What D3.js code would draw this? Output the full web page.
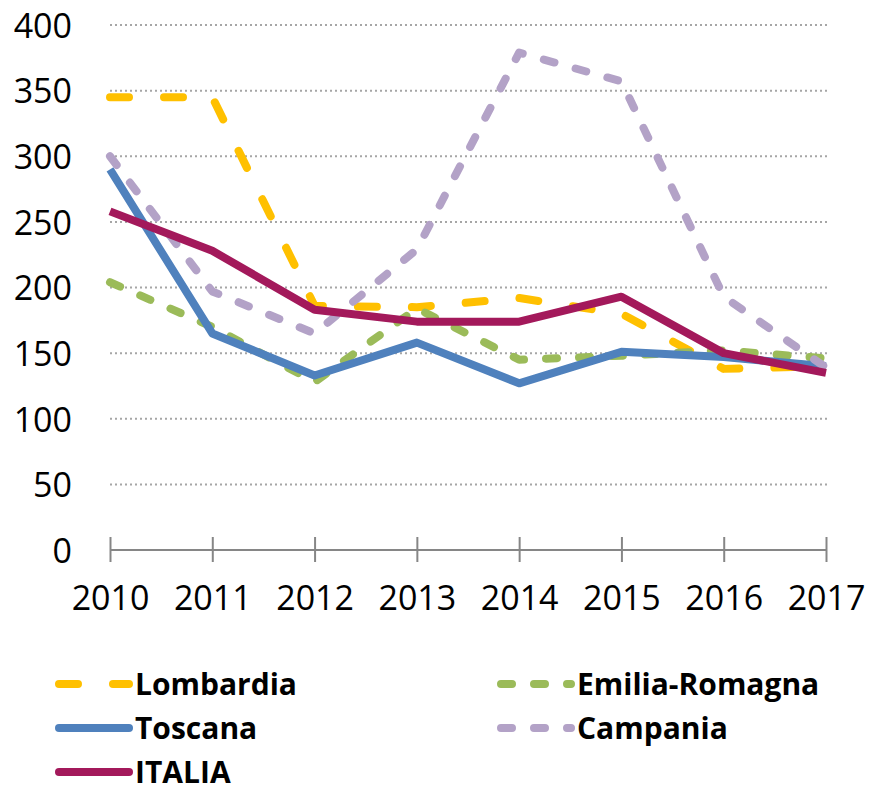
<!DOCTYPE html>
<html>
<head>
<meta charset="utf-8">
<script src="https://cdn.jsdelivr.net/npm/d3@7"></script>
<style>
  body { margin: 0; background: #fff; }
  svg { font-family: "Open Sans", "DejaVu Sans", sans-serif; }
</style>
</head>
<body>
<div id="chart"></div>
<script>
var years = [2010, 2011, 2012, 2013, 2014, 2015, 2016, 2017];
var yTicks = [0, 50, 100, 150, 200, 250, 300, 350, 400];

var lombardia = [345, 345, 186, 185, 192, 180, 138, 140];
var emilia    = [204, 170, 128, 184, 145, 148, 152, 146];
var toscana   = [290, 165, 133, 158, 127, 151, 147, 140];
var campania  = [300, 197, 165, 229, 379, 357, 193, 139];
var italia    = [258, 228, 183, 174, 174, 193, 150, 135];

var series = [
    {name: "Lombardia", values: lombardia, color: "#FFC000", dash: "19,35"},
    {name: "Emilia-Romagna", values: emilia, color: "#9BBB59", dash: "11,22"},
    {name: "Toscana", values: toscana, color: "#4F81BD", dash: null},
    {name: "Campania", values: campania, color: "#B3A2C7", dash: "11,22"},
    {name: "ITALIA", values: italia, color: "#A3195B", dash: null}
];

var width = 871, height = 790;
var svg = d3.select("#chart").append("svg")
        .attr("width", width)
        .attr("height", height);

var x = d3.scalePoint().domain(years).range([110, 826]);
var y = d3.scaleLinear().domain([0, 400]).range([550, 25]);

// gridlines
svg.append("g").selectAll("line")
        .data(yTicks.filter(function (d) { return d > 0; }))
        .enter().append("line")
        .attr("x1", 110).attr("x2", 828)
        .attr("y1", function (d) { return y(d); })
        .attr("y2", function (d) { return y(d); })
        .attr("stroke", "#a6a6a6")
        .attr("stroke-width", 2)
        .attr("stroke-dasharray", "2,3");

// y axis labels
var yAxis = svg.append("g")
        .attr("transform", "translate(110,0)")
        .call(d3.axisLeft(y).tickValues(yTicks).tickSize(0).tickPadding(38));
yAxis.select(".domain").remove();
yAxis.selectAll("text")
        .attr("font-size", 34)
        .attr("font-family", "Open Sans")
        .attr("fill", "#000")
        .attr("dy", "0.36em");

// x axis
var xAxis = svg.append("g")
        .attr("transform", "translate(0,550)")
        .call(d3.axisBottom(x).tickSizeInner(12).tickSizeOuter(0).tickPadding(24)
                .tickFormat(d3.format("d")));
xAxis.select(".domain")
        .attr("stroke", "#868686")
        .attr("stroke-width", 2)
        .attr("d", "M" + x(2010) + ",0H" + x(2017));
xAxis.selectAll(".tick line")
        .attr("stroke", "#868686")
        .attr("stroke-width", 2)
        .attr("y1", -13)
        .attr("y2", 12);
xAxis.selectAll("text")
        .attr("font-size", 34)
        .attr("font-family", "Open Sans")
        .attr("fill", "#000");

// lines
var line = d3.line()
        .x(function (d, i) { return x(years[i]); })
        .y(function (d) { return y(d); });

svg.append("g").selectAll("path")
        .data(series)
        .enter().append("path")
        .attr("d", function (d) { return line(d.values); })
        .attr("fill", "none")
        .attr("stroke", function (d) { return d.color; })
        .attr("stroke-width", 8)
        .attr("stroke-linecap", function (d) { return d.dash ? "round" : "butt"; })
        .attr("stroke-linejoin", "round")
        .attr("stroke-dasharray", function (d) { return d.dash; });

// legend
var legend = svg.append("g").selectAll("g")
        .data(series)
        .enter().append("g")
        .attr("transform", function (d, i) {
            var col = i % 2, row = Math.floor(i / 2);
            return "translate(" + (col === 0 ? 55 : 497) + "," + (684 + row * 44) + ")";
        });

legend.append("line")
        .attr("x1", 4).attr("x2", 74)
        .attr("stroke", function (d) { return d.color; })
        .attr("stroke-width", 8)
        .attr("stroke-linecap", "round")
        .attr("stroke-dasharray", function (d) { return d.dash; });

legend.append("text")
        .attr("x", 80)
        .attr("dy", "0.36em")
        .attr("font-size", 30)
        .attr("font-weight", "bold")
        .text(function (d) { return d.name; });
</script>
</body>
</html>
